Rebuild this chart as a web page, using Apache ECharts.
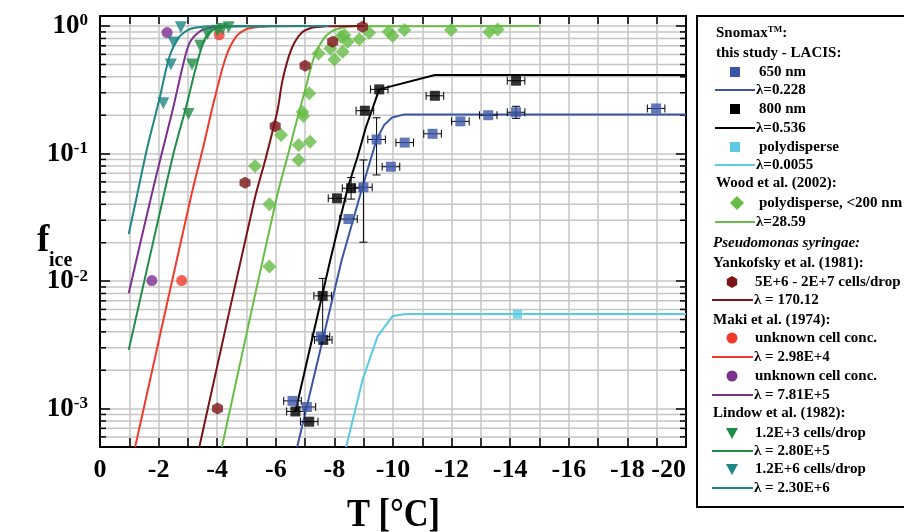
<!DOCTYPE html>
<html>
<head>
<meta charset="utf-8">
<script src="https://cdn.jsdelivr.net/npm/echarts@6/dist/echarts.min.js"></script>
<style>
html,body{margin:0;padding:0;background:#fff}
#chart{width:904px;height:532px}
</style>
</head>
<body>
<div id="chart"></div>
<script>
// Snomax / LACIS, 650 nm
var t650 = [-6.57, -7.06, -7.54, -8.48, -8.99, -9.44, -9.93, -10.40, -11.35, -12.30, -13.25, -14.20, -18.98];
var f650 = [0.00115, 0.00103, 0.00367, 0.0307, 0.0544, 0.129, 0.0789, 0.122, 0.143, 0.179, 0.200, 0.211, 0.226];
var f650Lo = [0, 0, 0, 0, 0.0202, 0.068, 0, 0, 0, 0, 0, 0.189, 0];
var f650Hi = [0, 0, 0, 0, 0.0891, 0.191, 0, 0, 0, 0, 0, 0.235, 0];
// 800 nm
var t800 = [-6.67, -7.14, -7.62, -7.60, -8.09, -8.57, -9.04, -9.53, -11.43, -14.20];
var f800 = [0.00095, 0.00079, 0.00346, 0.00766, 0.0446, 0.0535, 0.217, 0.319, 0.284, 0.373];
var f800Lo = [0, 0, 0, 0.0035, 0, 0.044, 0, 0, 0, 0];
var f800Hi = [0, 0, 0, 0.0105, 0, 0.065, 0, 0, 0, 0];
var tErr = 0.3;
// polydisperse
var tPoly = [-14.25];
var fPoly = [0.0055];
// Wood et al. (2002)
var tWood = [-5.29, -5.78, -5.78, -6.18, -6.78, -6.78, -6.91, -6.94, -7.14, -7.17, -7.46, -7.86, -8.00, -8.28, -8.22, -8.34, -8.45, -8.85, -9.19, -9.85, -9.99, -10.39, -11.98, -13.29, -13.57];
var fWood = [0.080, 0.040, 0.013, 0.140, 0.117, 0.089, 0.212, 0.197, 0.297, 0.124, 0.611, 0.668, 0.548, 0.629, 0.824, 0.85, 0.753, 0.787, 0.886, 0.902, 0.835, 0.93, 0.93, 0.90, 0.94];
// Yankofsky et al. (1981)
var tYank = [-4.01, -4.95, -5.98, -7.00, -7.94, -8.96];
var fYank = [0.001, 0.0592, 0.164, 0.489, 0.753, 0.987];
// Maki et al. (1974)
var tMakiA = [-2.79, -4.07];
var fMakiA = [0.0101, 0.855];
var tMakiB = [-1.77, -2.29];
var fMakiB = [0.0101, 0.89];
// Lindow et al. (1982)
var tLin3 = [-3.02, -3.14, -3.42, -3.67, -4.01, -4.18, -4.39];
var fLin3 = [0.204, 0.50, 0.70, 0.866, 0.92, 0.95, 0.98];
var tLin6 = [-2.16, -2.42, -2.51, -2.76];
var fLin6 = [0.248, 0.50, 0.745, 0.98];

// fit curves
var tFit650 = [-6.73, -8.25, -8.96, -9.44, -9.70, -9.97, -10.39, -20];
var fFit650 = [0.0005, 0.01466, 0.055, 0.129, 0.168, 0.192, 0.203, 0.203];
var tFit800 = [-6.67, -7.86, -8.45, -8.79, -9.08, -9.53, -11.43, -20];
var fFit800 = [0.00095, 0.01466, 0.0535, 0.0946, 0.1625, 0.319, 0.413, 0.413];
var tFitPoly = [-8.40, -8.96, -9.47, -9.99, -10.44, -20];
var fFitPoly = [0.0005, 0.00168, 0.00367, 0.00533, 0.00553, 0.00553];
var tFitWood = [-4.16, -6.01, -6.46, -6.63, -6.97, -7.31, -7.60, -7.88, -8.28, -8.7, -15];
var fFitWood = [0.0005, 0.0433, 0.107, 0.153, 0.297, 0.575, 0.777, 0.90, 0.975, 0.995, 1.0];
var tFitYank = [-3.39, -5.27, -5.67, -6.06, -6.23, -6.52, -6.86, -7.26, -7.7, -9];
var fFitYank = [0.0005, 0.0433, 0.0946, 0.22, 0.377, 0.648, 0.877, 0.975, 0.995, 1.0];
var tFitMakiA = [-1.20, -3.08, -3.50, -3.90, -4.30, -4.64, -4.98, -5.32, -5.8, -7];
var fFitMakiA = [0.0005, 0.0433, 0.107, 0.263, 0.575, 0.824, 0.942, 0.98, 0.995, 1.0];
var tFitMakiB = [-0.98, -1.72, -2.08, -2.48, -2.82, -3.05, -3.39, -3.73, -4.2, -5];
var fFitMakiB = [0.00804, 0.0433, 0.0946, 0.22, 0.48, 0.732, 0.902, 0.97, 0.995, 1.0];
var tFitLin3 = [-0.98, -2.14, -2.54, -2.94, -3.28, -3.56, -3.84, -4.18, -4.6, -6];
var fFitLin3 = [0.00289, 0.0433, 0.107, 0.233, 0.48, 0.777, 0.93, 0.98, 0.995, 1.0];
var tFitLin6 = [-0.98, -1.23, -1.62, -2.02, -2.37, -2.71, -3.05, -3.39, -3.8, -7.8];
var fFitLin6 = [0.0234, 0.0433, 0.113, 0.263, 0.575, 0.824, 0.942, 0.98, 0.995, 1.0];

// minor log grid (2..9 per decade)
var minorF = [];
[0.0001, 0.001, 0.01, 0.1].forEach(function (d) {
  for (var k = 2; k <= 9; k++) {
    var v = +(d * k).toPrecision(3);
    if (v > 0.0005 && v < 1.2) minorF.push(v);
  }
});

var SERIF = '"Liberation Serif", "Times New Roman", serif';
var C = {
  blue: '#3b56a6', black: '#000000', cyan: '#5ccae2', wood: '#67bd45',
  yank: '#7c1315', maki: '#f23a2c', purple: '#7d2f8e', lin3: '#1f8c47', lin6: '#1d8686'
};

function zip(a, b) { return a.map(function (v, i) { return [v, b[i]]; }); }

function fitLine(name, t, f, color, smooth) {
  return {
    name: name, type: 'line', data: zip(t, f), showSymbol: false, smooth: smooth ? 0.3 : false,
    lineStyle: { color: color, width: 2 }, z: 3, silent: true
  };
}
function pts(name, t, f, color, symbol, size, rot) {
  return {
    name: name, type: 'scatter', data: zip(t, f), symbol: symbol, symbolSize: size,
    symbolRotate: rot || 0, itemStyle: { color: color }, z: 5
  };
}
function errData(t, f, lo, hi) {
  return t.map(function (v, i) { return [v, f[i], tErr, lo[i], hi[i]]; });
}

var hexPath = 'path://M0,-1L0.866,-0.5L0.866,0.5L0,1L-0.866,0.5L-0.866,-0.5Z';

function fmtPow(v) {
  var l = Math.log10(v), e = Math.round(l);
  if (Math.abs(l - e) > 1e-6) return '';
  return '{b|10}{s|' + e + '}';
}

var chart = echarts.init(document.getElementById('chart'));

var legendRows = [
  { k: 'hdr', y: 33, x: 716, rich: true },
  { k: 'hdr', y: 53, x: 716, text: 'this study - LACIS:' },
  { k: 'sym', y: 72, sx: 735, shape: 'square', color: C.blue, text: '650 nm', tx: 759 },
  { k: 'line', y: 90, x1: 715, x2: 755, color: C.blue, text: '\u03bb=0.228', tx: 756 },
  { k: 'sym', y: 109, sx: 735, shape: 'square', color: C.black, text: '800 nm', tx: 759 },
  { k: 'line', y: 128, x1: 715, x2: 755, color: C.black, text: '\u03bb=0.536', tx: 756 },
  { k: 'sym', y: 147, sx: 735, shape: 'square', color: C.cyan, text: 'polydisperse', tx: 759 },
  { k: 'line', y: 165, x1: 715, x2: 755, color: C.cyan, text: '\u03bb=0.0055', tx: 756 },
  { k: 'hdr', y: 183, x: 716, text: 'Wood et al. (2002):' },
  { k: 'sym', y: 203, sx: 737, shape: 'diamond', color: C.wood, text: 'polydisperse, <200 nm', tx: 759 },
  { k: 'line', y: 222, x1: 715, x2: 755, color: C.wood, text: '\u03bb=28.59', tx: 756 },
  { k: 'hdr', y: 243, x: 713, text: 'Pseudomonas syringae:', italic: true },
  { k: 'hdr', y: 263, x: 713, text: 'Yankofsky et al. (1981):' },
  { k: 'sym', y: 282, sx: 732, shape: 'hex', color: C.yank, text: '5E+6 - 2E+7 cells/drop', tx: 755 },
  { k: 'line', y: 300, x1: 712, x2: 753, color: C.yank, text: '\u03bb = 170.12', tx: 754 },
  { k: 'hdr', y: 320, x: 713, text: 'Maki et al. (1974):' },
  { k: 'sym', y: 338, sx: 732, shape: 'circle', color: C.maki, text: 'unknown cell conc.', tx: 755 },
  { k: 'line', y: 357, x1: 712, x2: 753, color: C.maki, text: '\u03bb = 2.98E+4', tx: 754 },
  { k: 'sym', y: 376, sx: 732, shape: 'circle', color: C.purple, text: 'unknown cell conc.', tx: 755 },
  { k: 'line', y: 395, x1: 712, x2: 753, color: C.purple, text: '\u03bb = 7.81E+5', tx: 754 },
  { k: 'hdr', y: 413, x: 713, text: 'Lindow et al. (1982):' },
  { k: 'sym', y: 433, sx: 732, shape: 'tri', color: C.lin3, text: '1.2E+3 cells/drop', tx: 755 },
  { k: 'line', y: 451, x1: 712, x2: 753, color: C.lin3, text: '\u03bb = 2.80E+5', tx: 754 },
  { k: 'sym', y: 469, sx: 732, shape: 'tri', color: C.lin6, text: '1.2E+6 cells/drop', tx: 755 },
  { k: 'line', y: 488, x1: 712, x2: 753, color: C.lin6, text: '\u03bb = 2.30E+6', tx: 754 }
];

var FONT = 'bold 15px ' + SERIF;
function legendShape(r) {
  var x = r.sx, y = r.y, st = { fill: r.color };
  if (r.shape === 'square') return { type: 'rect', shape: { x: x - 5, y: y - 5, width: 10, height: 10 }, style: st };
  if (r.shape === 'circle') return { type: 'circle', shape: { cx: x, cy: y, r: 5.5 }, style: st };
  if (r.shape === 'diamond') return { type: 'polygon', shape: { points: [[x, y - 7], [x + 7, y], [x, y + 7], [x - 7, y]] }, style: st };
  if (r.shape === 'tri') return { type: 'polygon', shape: { points: [[x - 6, y - 5], [x + 6, y - 5], [x, y + 6]] }, style: st };
  var p = [];
  for (var i = 0; i < 6; i++) { var a = Math.PI / 3 * i - Math.PI / 2; p.push([x + 6 * Math.cos(a), y + 6 * Math.sin(a)]); }
  return { type: 'polygon', shape: { points: p }, style: st };
}
var legendEls = [{
  type: 'rect', shape: { x: 697, y: 16, width: 230, height: 491 },
  style: { fill: '#fff', stroke: '#000', lineWidth: 2 }, z: 10
}];
legendRows.forEach(function (r) {
  if (r.k === 'hdr') {
    if (r.rich) {
      legendEls.push({
        type: 'text', x: r.x, y: r.y, z: 11,
        style: {
          text: '{a|Snomax}{b|TM}{a|:}', verticalAlign: 'middle',
          rich: {
            a: { font: FONT, fill: '#000' },
            b: { font: 'bold 9px ' + SERIF, fill: '#000', verticalAlign: 'top' }
          }
        }
      });
    } else {
      legendEls.push({
        type: 'text', x: r.x, y: r.y, z: 11,
        style: { text: r.text, font: (r.italic ? 'italic ' : '') + FONT, fill: '#000', verticalAlign: 'middle' }
      });
    }
  } else if (r.k === 'sym') {
    var s = legendShape(r); s.z = 11; legendEls.push(s);
    legendEls.push({ type: 'text', x: r.tx, y: r.y, z: 11, style: { text: r.text, font: FONT, fill: '#000', verticalAlign: 'middle' } });
  } else {
    legendEls.push({ type: 'line', z: 11, shape: { x1: r.x1, y1: r.y, x2: r.x2, y2: r.y }, style: { stroke: r.color, lineWidth: 2 } });
    legendEls.push({ type: 'text', x: r.tx, y: r.y, z: 11, style: { text: r.text, font: FONT, fill: '#000', verticalAlign: 'middle' } });
  }
});

var titleEls = [
  { type: 'text', x: 347, y: 516, scaleX: 0.86, style: { text: 'T [\u00b0C]', font: 'bold 40px ' + SERIF, fill: '#000', verticalAlign: 'middle' } },
  { type: 'text', x: 37, y: 241, style: { text: 'f', font: 'bold 37px ' + SERIF, fill: '#000', verticalAlign: 'middle' } },
  { type: 'text', x: 49, y: 261, style: { text: 'ice', font: 'bold 20px ' + SERIF, fill: '#000', verticalAlign: 'middle' } }
];

var gridColor = '#c6c6c6';
var yLog = {
  type: 'log', logBase: 10, min: 0.0005, max: 1.2
};

var option = {
  animation: false,
  backgroundColor: '#fff',
  grid: { left: 100, top: 16, right: 218, bottom: 85, containLabel: false, outerBoundsMode: 'none' },
  xAxis: [{
    type: 'value', min: -20, max: 0, interval: 1, inverse: true, position: 'bottom',
    axisLine: { show: true, onZero: false, lineStyle: { color: '#000', width: 2 } },
    axisTick: { show: true, inside: true, length: 9, lineStyle: { color: '#000', width: 1.5 } },
    axisLabel: {
      margin: 10, color: '#000', fontSize: 26, fontWeight: 'bold', fontFamily: SERIF,
      alignMinLabel: 'right',
      formatter: function (v) { return v % 2 === 0 ? String(v) : ''; }
    },
    splitLine: { show: true, lineStyle: { color: gridColor, width: 1.5 } }
  }, {
    type: 'value', min: -20, max: 0, interval: 1, inverse: true, position: 'top',
    axisLine: { show: true, onZero: false, lineStyle: { color: '#000', width: 2 } },
    axisTick: { show: true, inside: true, length: 8, lineStyle: { color: '#000', width: 1.5 } },
    axisLabel: { show: false }, splitLine: { show: false }
  }],
  yAxis: [Object.assign({}, yLog, {
    position: 'left',
    axisLine: { show: true, onZero: false, lineStyle: { color: '#000', width: 2 } },
    axisTick: { show: true, inside: true, length: 10, lineStyle: { color: '#000', width: 1.5 } },
    axisLabel: {
      margin: 12, formatter: fmtPow,
      rich: {
        b: { fontSize: 27, fontWeight: 'bold', fontFamily: SERIF, color: '#000' },
        s: { fontSize: 17, fontWeight: 'bold', fontFamily: SERIF, color: '#000', verticalAlign: 'top' }
      }
    },
    splitLine: { show: true, lineStyle: { color: gridColor, width: 1.5 } }
  }), Object.assign({}, yLog, {
    position: 'right',
    axisLine: { show: true, onZero: false, lineStyle: { color: '#000', width: 2 } },
    axisTick: { show: true, inside: true, length: 10, lineStyle: { color: '#000', width: 1.5 } },
    axisLabel: { show: false }, splitLine: { show: false }
  })],
  graphic: legendEls.concat(titleEls),
  series: [
    {
      type: 'custom', z: 1, silent: true, clip: false,
      data: minorF.map(function (v) { return [-10, v]; }),
      encode: { x: 0, y: 1 },
      renderItem: function (params, api) {
        var cs = params.coordSys;
        var y = api.coord([-10, api.value(1)])[1];
        return {
          type: 'group', children: [
            { type: 'line', shape: { x1: cs.x, y1: y, x2: cs.x + cs.width, y2: y }, style: { stroke: gridColor, lineWidth: 1.5 } },
            { type: 'line', shape: { x1: cs.x, y1: y, x2: cs.x + 6, y2: y }, style: { stroke: '#000', lineWidth: 1.5 } },
            { type: 'line', shape: { x1: cs.x + cs.width - 6, y1: y, x2: cs.x + cs.width, y2: y }, style: { stroke: '#000', lineWidth: 1.5 } }
          ]
        };
      }
    },
    fitLine('\u03bb=0.0055', tFitPoly, fFitPoly, C.cyan, false),
    fitLine('\u03bb=0.228', tFit650, fFit650, C.blue, false),
    fitLine('\u03bb=0.536', tFit800, fFit800, C.black, false),
    fitLine('\u03bb=28.59', tFitWood, fFitWood, C.wood, true),
    fitLine('\u03bb = 170.12', tFitYank, fFitYank, C.yank, true),
    fitLine('\u03bb = 2.98E+4', tFitMakiA, fFitMakiA, C.maki, true),
    fitLine('\u03bb = 7.81E+5', tFitMakiB, fFitMakiB, C.purple, true),
    fitLine('\u03bb = 2.80E+5', tFitLin3, fFitLin3, C.lin3, true),
    fitLine('\u03bb = 2.30E+6', tFitLin6, fFitLin6, C.lin6, true),
    {
      type: 'custom', z: 4, silent: true,
      data: errData(t650, f650, f650Lo, f650Hi).concat(errData(t800, f800, f800Lo, f800Hi)),
      encode: { x: 0, y: 1 },
      renderItem: function (params, api) {
        var t = api.value(0), f = api.value(1), e = api.value(2), lo = api.value(3), hi = api.value(4);
        var a = api.coord([t - e, f]), b = api.coord([t + e, f]);
        var st = { stroke: '#000', lineWidth: 1 };
        var ch = [
          { type: 'line', shape: { x1: a[0], y1: a[1], x2: b[0], y2: b[1] }, style: st },
          { type: 'line', shape: { x1: a[0], y1: a[1] - 4, x2: a[0], y2: a[1] + 4 }, style: st },
          { type: 'line', shape: { x1: b[0], y1: b[1] - 4, x2: b[0], y2: b[1] + 4 }, style: st }
        ];
        if (lo > 0 && hi > 0) {
          var p = api.coord([t, lo]), q = api.coord([t, hi]);
          ch.push({ type: 'line', shape: { x1: p[0], y1: p[1], x2: q[0], y2: q[1] }, style: st });
          ch.push({ type: 'line', shape: { x1: p[0] - 4, y1: p[1], x2: p[0] + 4, y2: p[1] }, style: st });
          ch.push({ type: 'line', shape: { x1: q[0] - 4, y1: q[1], x2: q[0] + 4, y2: q[1] }, style: st });
        }
        return { type: 'group', children: ch };
      }
    },
    pts('polydisperse, <200 nm', tWood, fWood, C.wood, 'diamond', 14),
    pts('5E+6 - 2E+7 cells/drop', tYank, fYank, C.yank, hexPath, [11, 12]),
    pts('Maki A', tMakiA, fMakiA, C.maki, 'circle', 11),
    pts('Maki B', tMakiB, fMakiB, C.purple, 'circle', 11),
    pts('1.2E+3 cells/drop', tLin3, fLin3, C.lin3, 'triangle', 12, 180),
    pts('1.2E+6 cells/drop', tLin6, fLin6, C.lin6, 'triangle', 12, 180),
    pts('polydisperse', tPoly, fPoly, C.cyan, 'rect', 9),
    pts('800 nm', t800, f800, C.black, 'rect', 10),
    pts('650 nm', t650, f650, C.blue, 'rect', 10)
  ]
};
chart.setOption(option);
</script>
</body>
</html>
